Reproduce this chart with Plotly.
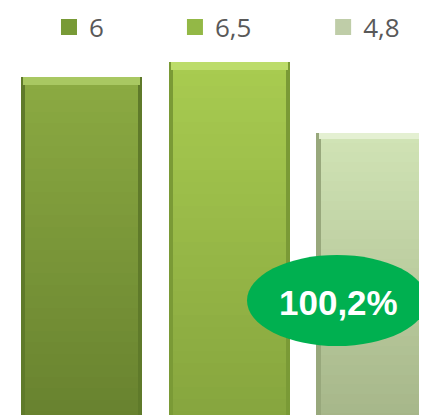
import plotly.graph_objects as go

# ---- data ----
series_names = ["6", "6,5", "4,8"]
values = [6.0, 6.26, 5.03]
badge_text = "100,2%"

# ---- styles ----
top_colors = [(0x8b, 0xaa, 0x42), (0xa8, 0xcb, 0x50), (0xd0, 0xe3, 0xb5)]
bottom_colors = [(0x68, 0x82, 0x2f), (0x86, 0xa5, 0x3e), (0xa6, 0xb6, 0x89)]
edge_colors = ["#5f7a2a", "#7a9a36", "#98a87c"]
highlight_colors = ["#a9c862", "#bcdc6a", "#e4f0d2"]
legend_colors = ["#789a36", "#93b846", "#bfcda8"]
legend_x = [0.096, 0.391, 0.738]

BAR_W = 0.824
N = 30
PLOT_H = 375


def hexc(c):
    return "#%02x%02x%02x" % c


def mix(a, b, t):
    return tuple(int(round(a[k] + (b[k] - a[k]) * t)) for k in range(3))


fig = go.Figure()

for i, v in enumerate(values):
    fig.add_trace(go.Bar(x=[i], y=[v], width=BAR_W, marker=dict(color=edge_colors[i], line=dict(width=0)),
                         showlegend=False, hoverinfo="skip"))
    for j in range(N):
        h = v * (N - j) / N
        col = mix(top_colors[i], bottom_colors[i], j / (N - 1))
        fig.add_trace(go.Bar(x=[i], y=[h], width=BAR_W * 0.93,
                             marker=dict(color=hexc(col), line=dict(width=0)),
                             showlegend=False, hoverinfo="skip"))
    fig.add_trace(go.Bar(x=[i], y=[v * 0.022], base=[v * 0.978], width=BAR_W * 0.96,
                         marker=dict(color=highlight_colors[i], line=dict(width=0)),
                         showlegend=False, hoverinfo="skip"))

for i, name in enumerate(series_names):
    lg = "legend" if i == 0 else "legend%d" % (i + 1)
    fig.add_trace(go.Scatter(x=[None], y=[None], mode="markers", name=name,
                             marker=dict(symbol="square", size=20, color=legend_colors[i]),
                             legend=lg, showlegend=True))

legend_style = dict(orientation="h", yanchor="middle", y=1.056, xanchor="left",
                    font=dict(family="Open Sans", size=26, color="#595959"),
                    bgcolor="rgba(0,0,0,0)", borderwidth=0)

fig.update_layout(
    width=427, height=415,
    margin=dict(l=0, r=0, t=40, b=0, autoexpand=False),
    paper_bgcolor="white", plot_bgcolor="white",
    barmode="overlay", bargap=0,
    xaxis=dict(range=[-0.497, 2.389], visible=False, fixedrange=True),
    yaxis=dict(range=[0, PLOT_H / 57.67], visible=False, fixedrange=True),
    legend=dict(x=legend_x[0], **legend_style),
    legend2=dict(x=legend_x[1], **legend_style),
    legend3=dict(x=legend_x[2], **legend_style),
    shapes=[dict(type="circle", xref="paper", yref="paper",
                 x0=239 / 427, x1=419 / 427, y0=(415 - 338) / PLOT_H, y1=(415 - 247) / PLOT_H,
                 fillcolor="#00b050", line=dict(width=0), layer="above")],
    annotations=[dict(text="<b>%s</b>" % badge_text, xref="paper", yref="paper",
                      x=330 / 427, y=(415 - 294) / PLOT_H, xanchor="center", yanchor="middle",
                      showarrow=False,
                      font=dict(family="Liberation Sans", size=35, color="white"))],
)

fig.write_html("out.html")
